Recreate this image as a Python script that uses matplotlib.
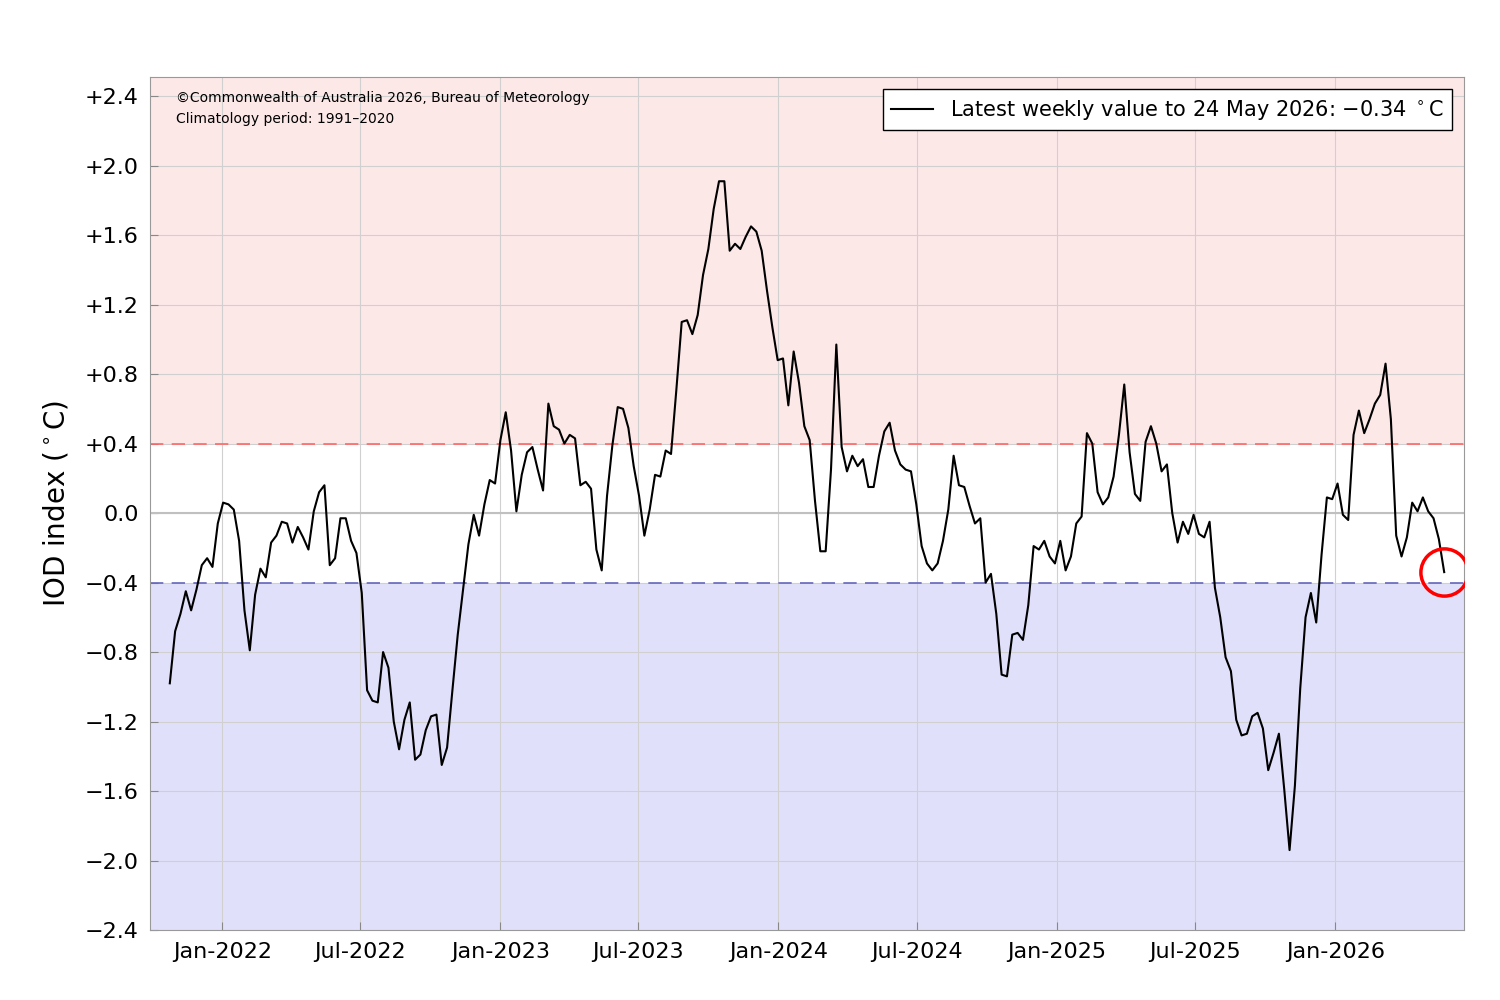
import matplotlib
matplotlib.use("Agg")
import matplotlib.pyplot as plt
import matplotlib.dates as mdates
import numpy as np
import pandas as pd

last_date = "2026-05-24"
iod_values = [
    -0.98, -0.68, -0.58, -0.45, -0.56, -0.44, -0.30, -0.26, -0.31, -0.06,
    0.06, 0.05, 0.02, -0.16, -0.56, -0.79, -0.47, -0.32, -0.37, -0.17,
    -0.13, -0.05, -0.06, -0.17, -0.08, -0.14, -0.21, 0.01, 0.12, 0.16,
    -0.30, -0.26, -0.03, -0.03, -0.16, -0.23, -0.46, -1.02, -1.08, -1.09,
    -0.80, -0.89, -1.20, -1.36, -1.19, -1.09, -1.42, -1.39, -1.25, -1.17,
    -1.16, -1.45, -1.35, -1.02, -0.70, -0.44, -0.18, -0.01, -0.13, 0.05,
    0.19, 0.17, 0.42, 0.58, 0.36, 0.01, 0.22, 0.35, 0.38, 0.25,
    0.13, 0.63, 0.50, 0.48, 0.40, 0.45, 0.43, 0.16, 0.18, 0.14,
    -0.21, -0.33, 0.10, 0.39, 0.61, 0.60, 0.49, 0.27, 0.10, -0.13,
    0.02, 0.22, 0.21, 0.36, 0.34, 0.71, 1.10, 1.11, 1.03, 1.14,
    1.37, 1.52, 1.75, 1.91, 1.91, 1.51, 1.55, 1.52, 1.59, 1.65,
    1.62, 1.51, 1.28, 1.07, 0.88, 0.89, 0.62, 0.93, 0.75, 0.50,
    0.42, 0.07, -0.22, -0.22, 0.25, 0.97, 0.38, 0.24, 0.33, 0.27,
    0.31, 0.15, 0.15, 0.33, 0.47, 0.52, 0.36, 0.28, 0.25, 0.24,
    0.05, -0.19, -0.29, -0.33, -0.29, -0.16, 0.02, 0.33, 0.16, 0.15,
    0.04, -0.06, -0.03, -0.40, -0.35, -0.58, -0.93, -0.94, -0.70, -0.69,
    -0.73, -0.53, -0.19, -0.21, -0.16, -0.25, -0.29, -0.16, -0.33, -0.25,
    -0.06, -0.02, 0.46, 0.40, 0.12, 0.05, 0.09, 0.21, 0.45, 0.74,
    0.35, 0.11, 0.07, 0.41, 0.50, 0.40, 0.24, 0.28, 0.00, -0.17,
    -0.05, -0.12, -0.01, -0.12, -0.14, -0.05, -0.43, -0.60, -0.83, -0.91,
    -1.19, -1.28, -1.27, -1.17, -1.15, -1.24, -1.48, -1.38, -1.27, -1.59,
    -1.94, -1.57, -1.01, -0.60, -0.46, -0.63, -0.24, 0.09, 0.08, 0.17,
    -0.01, -0.04, 0.45, 0.59, 0.46, 0.54, 0.63, 0.68, 0.86, 0.54,
    -0.13, -0.25, -0.14, 0.06, 0.01, 0.09, 0.01, -0.03, -0.15, -0.34,
]
yticks = [-2.4, -2.0, -1.6, -1.2, -0.8, -0.4, 0.0, 0.4, 0.8, 1.2, 1.6, 2.0, 2.4]
ytick_labels = ["\u22122.4", "\u22122.0", "\u22121.6", "\u22121.2", "\u22120.8", "\u22120.4",
                "0.0", "+0.4", "+0.8", "+1.2", "+1.6", "+2.0", "+2.4"]
threshold = 0.4
legend_label = "Latest weekly value to 24 May 2026: \u22120.34 $^\\circ$C"

dates = pd.date_range(end=last_date, periods=len(iod_values), freq="7D")

fig = plt.figure(figsize=(15, 10), dpi=100)
ax = fig.add_axes([0.1, 0.07, 0.876, 0.853])

xmin = pd.Timestamp("2021-09-28")
xmax = pd.Timestamp("2026-06-19")
ymin, ymax = -2.4, 2.51
ax.set_xlim(xmin, xmax)
ax.set_ylim(ymin, ymax)

ax.axhspan(threshold, ymax, color="#fde8e8", zorder=0, lw=0)
ax.axhspan(ymin, -threshold, color="#e0e0fb", zorder=0, lw=0)
ax.grid(True, color="#d0d0d0", lw=0.8, zorder=1)
ax.axhline(0, color="#c0c0c0", lw=1.5, zorder=2)
ax.axhline(threshold, color="#ff6666", lw=1.2, ls=(0, (8, 5)), zorder=2)
ax.axhline(-threshold, color="#6666bb", lw=1.2, ls=(0, (8, 5)), zorder=2)

ax.plot(dates, iod_values, color="black", lw=1.5, zorder=3, label=legend_label)
ax.plot(dates[-1:], iod_values[-1:], "o", ms=34, mfc="none", mec="red", mew=2.5, zorder=4)

ax.set_yticks(yticks)
ax.set_yticklabels(ytick_labels)
ax.xaxis.set_major_locator(mdates.MonthLocator(bymonth=[1, 7]))
ax.xaxis.set_major_formatter(mdates.DateFormatter("%b-%Y"))
ax.tick_params(axis="both", labelsize=16, direction="in", length=6, color="#888888")
ax.tick_params(axis="y", pad=8)
ax.tick_params(axis="x", pad=9)
for s in ax.spines.values():
    s.set_color("#999999")

ax.set_ylabel("IOD index ($^\\circ$C)", fontsize=20, labelpad=10)

ax.text(0.02, 0.975, "\u00a9Commonwealth of Australia 2026, Bureau of Meteorology",
        transform=ax.transAxes, fontsize=10, va="center")
ax.text(0.02, 0.951, "Climatology period: 1991\u20132020",
        transform=ax.transAxes, fontsize=10, va="center")

leg = ax.legend(loc="upper right", fontsize=15, fancybox=False, framealpha=1,
                edgecolor="black", borderaxespad=0.6)
leg.get_frame().set_linewidth(1.0)

fig.savefig("out.png", dpi=100)
